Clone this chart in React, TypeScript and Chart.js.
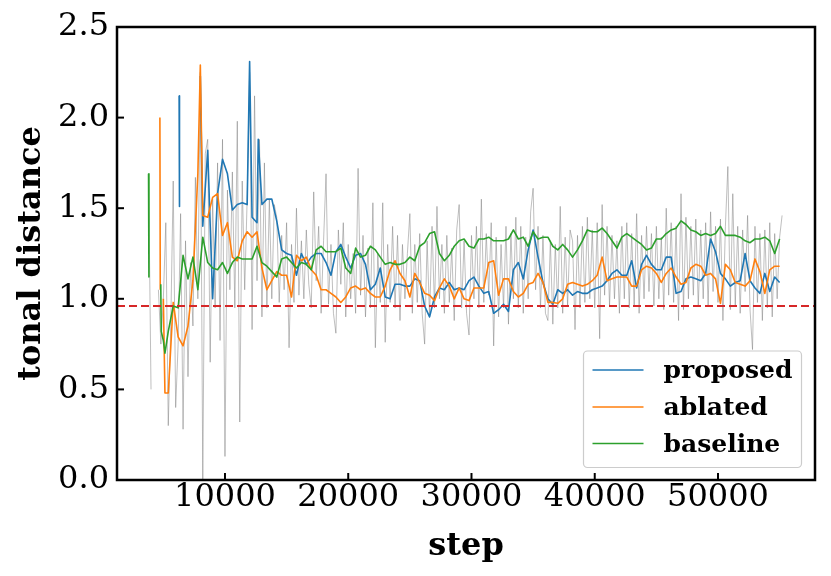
import React, { useEffect, useRef } from "react";
import { Chart, registerables } from "chart.js";

Chart.register(...registerables);

// ---------- data ----------
const steps = [
  3800, 4200, 4600, 5000, 5400, 5800, 6200, 6600, 7000, 7400,
  7800, 8200, 8600, 9000, 9400, 9800, 10200, 10600, 11000, 11400,
  11800, 12200, 12600, 13000, 13400, 13800, 14200, 14600, 15000, 15400,
  15800, 16200, 16600, 17000, 17400, 17800, 18200, 18600, 19000, 19400,
  19800, 20200, 20600, 21000, 21400, 21800, 22200, 22600, 23000, 23400,
  23800, 24200, 24600, 25000, 25400, 25800, 26200, 26600, 27000, 27400,
  27800, 28200, 28600, 29000, 29400, 29800, 30200, 30600, 31000, 31400,
  31800, 32200, 32600, 33000, 33400, 33800, 34200, 34600, 35000, 35400,
  35800, 36200, 36600, 37000, 37400, 37800, 38200, 38600, 39000, 39400,
  39800, 40200, 40600, 41000, 41400, 41800, 42200, 42600, 43000, 43400,
  43800, 44200, 44600, 45000, 45400, 45800, 46200, 46600, 47000, 47400,
  47800, 48200, 48600, 49000, 49400, 49800, 50200, 50600, 51000, 51400,
  51800, 52200, 52600, 53000, 53400, 53800, 54200, 54600, 55000,
];

const proposed = [
  null, null, null, null, null, null, null, null, null, null,
  null, 1.40, 1.82, 1.00, 1.58, 1.77, 1.69, 1.49, 1.52, 1.53,
  1.52, 1.45, 1.42, 1.52, 1.55, 1.55, 1.43, 1.27, 1.25, 1.24,
  1.13, 1.25, 1.19, 1.23, 1.25, 1.25, 1.20, 1.13, 1.26, 1.30,
  1.23, 1.17, 1.24, 1.25, 1.19, 1.05, 1.08, 1.17, 1.01, 1.00,
  1.08, 1.08, 1.07, 1.07, 1.11, 1.10, 0.96, 0.90, 1.01, 1.06,
  1.05, 1.09, 1.05, 1.06, 1.05, 1.10, 1.12, 1.07, 1.03, 1.04,
  0.92, 0.94, 0.97, 0.93, 1.16, 1.20, 1.11, 1.27, 1.38, 1.23,
  1.09, 1.00, 0.97, 1.05, 1.03, 1.05, 1.02, 1.04, 1.03, 1.03,
  1.05, 1.06, 1.07, 1.10, 1.14, 1.16, 1.13, 1.13, 1.21, 1.06,
  1.19, 1.24, 1.19, 1.16, 1.16, 1.23, 1.23, 1.03, 1.04, 1.11,
  1.12, 1.11, 1.10, 1.14, 1.33, 1.26, 1.14, 1.11, 1.07, 1.09,
  1.10, 1.25, 1.10, 1.06, 1.03, 1.14, 1.04, 1.12, 1.09,
];

const ablated = [
  null, null, null, 1.00, 0.48, 0.98, 0.79, 0.74, 0.85, 1.10,
  1.69, 1.46, 1.45, 1.56, 1.58, 1.35, 1.42, 1.23, 1.21, 1.32,
  1.37, 1.34, 1.37, 1.17, 1.05, 1.10, 1.15, 1.13, 1.13, 1.01,
  1.24, 1.21, 1.23, 1.16, 1.13, 1.05, 1.05, 1.03, 1.01, 0.98,
  1.01, 1.06, 1.07, 1.05, 1.06, 1.03, 1.01, 1.01, 1.07, 1.16,
  1.21, 1.14, 1.10, 1.01, 1.14, 1.09, 1.03, 1.02, 0.99, 1.06,
  1.11, 1.07, 1.00, 1.06, 1.00, 0.99, 1.06, 1.06, 1.06, 1.20,
  1.21, 1.02, 1.11, 1.11, 1.04, 1.01, 1.03, 1.08, 1.09, 1.14,
  1.09, 0.98, 0.98, 0.975, 1.00, 1.08, 1.09, 1.08, 1.07, 1.08,
  1.10, 1.13, 1.23, 1.10, 1.11, 1.12, 1.12, 1.12, 1.07, 1.07,
  1.16, 1.18, 1.17, 1.14, 1.09, 1.14, 1.17, 1.12, 1.08, 1.09,
  1.17, 1.19, 1.18, 1.13, 1.14, 1.11, 0.975, 1.19, 1.16, 1.09,
  1.08, 1.07, 1.10, 1.22, 1.15, 1.03, 1.16, 1.18, 1.18,
];

const baseline = [
  1.69, null, null, 0.77, 0.82, 0.96, 0.95, 1.24, 1.11, 1.23,
  1.05, 1.34, 1.20, 1.17, 1.16, 1.20, 1.14, 1.20, 1.23, 1.22,
  1.22, 1.22, 1.29, 1.20, 1.18, 1.15, 1.12, 1.22, 1.23, 1.20,
  1.17, 1.20, 1.19, 1.16, 1.27, 1.29, 1.26, 1.26, 1.26, 1.28,
  1.17, 1.14, 1.28, 1.23, 1.24, 1.29, 1.27, 1.23, 1.19, 1.20,
  1.19, 1.19, 1.20, 1.23, 1.21, 1.29, 1.31, 1.36, 1.37, 1.25,
  1.21, 1.24, 1.29, 1.32, 1.33, 1.29, 1.28, 1.33, 1.33, 1.34,
  1.32, 1.32, 1.32, 1.33, 1.38, 1.33, 1.34, 1.29, 1.37, 1.33,
  1.34, 1.34, 1.29, 1.27, 1.30, 1.27, 1.23, 1.27, 1.32, 1.38,
  1.37, 1.37, 1.39, 1.36, 1.32, 1.28, 1.34, 1.36, 1.34, 1.32,
  1.30, 1.27, 1.28, 1.33, 1.33, 1.36, 1.38, 1.39, 1.43, 1.41,
  1.38, 1.37, 1.35, 1.36, 1.35, 1.36, 1.40, 1.35, 1.35, 1.35,
  1.34, 1.32, 1.31, 1.33, 1.33, 1.34, 1.32, 1.25, 1.33,
];

// short fragments / spikes that fall between the logged steps
const proposedExtra = [[6280, 2.12], [6310, 1.51], [8000, 2.23], [12000, 2.31], [12700, 1.88]];
const ablatedExtra = [[4720, 2.0], [4750, 1.05], [4800, null], [5130, 0.48], [8000, 2.29]];
const baselineExtra = [[3830, 1.12], [4790, 1.08], [4830, 0.82], [5130, 0.7]];

// raw (unsmoothed) values, drawn in light grey
const rawSteps = [
  3800, 4000, 4200, 4400, 4600, 4800, 5000, 5200, 5400, 5600,
  5800, 6000, 6200, 6400, 6600, 6800, 7000, 7200, 7400, 7600,
  7800, 8000, 8200, 8400, 8600, 8800, 9000, 9200, 9400, 9600,
  9800, 10000, 10200, 10400, 10600, 10800, 11000, 11200, 11400, 11600,
  11800, 12000, 12200, 12400, 12600, 12800, 13000, 13200, 13400, 13600,
  13800, 14000, 14200, 14400, 14600, 14800, 15000, 15200, 15400, 15600,
  15800, 16000, 16200, 16400, 16600, 16800, 17000, 17200, 17400, 17600,
  17800, 18000, 18200, 18400, 18600, 18800, 19000, 19200, 19400, 19600,
  19800, 20000, 20200, 20400, 20600, 20800, 21000, 21200, 21400, 21600,
  21800, 22000, 22200, 22400, 22600, 22800, 23000, 23200, 23400, 23600,
  23800, 24000, 24200, 24400, 24600, 24800, 25000, 25200, 25400, 25600,
  25800, 26000, 26200, 26400, 26600, 26800, 27000, 27200, 27400, 27600,
  27800, 28000, 28200, 28400, 28600, 28800, 29000, 29200, 29400, 29600,
  29800, 30000, 30200, 30400, 30600, 30800, 31000, 31200, 31400, 31600,
  31800, 32000, 32200, 32400, 32600, 32800, 33000, 33200, 33400, 33600,
  33800, 34000, 34200, 34400, 34600, 34800, 35000, 35200, 35400, 35600,
  35800, 36000, 36200, 36400, 36600, 36800, 37000, 37200, 37400, 37600,
  37800, 38000, 38200, 38400, 38600, 38800, 39000, 39200, 39400, 39600,
  39800, 40000, 40200, 40400, 40600, 40800, 41000, 41200, 41400, 41600,
  41800, 42000, 42200, 42400, 42600, 42800, 43000, 43200, 43400, 43600,
  43800, 44000, 44200, 44400, 44600, 44800, 45000, 45200, 45400, 45600,
  45800, 46000, 46200, 46400, 46600, 46800, 47000, 47200, 47400, 47600,
  47800, 48000, 48200, 48400, 48600, 48800, 49000, 49200, 49400, 49600,
  49800, 50000, 50200, 50400, 50600, 50800, 51000, 51200, 51400, 51600,
  51800, 52000, 52200, 52400, 52600, 52800, 53000, 53200, 53400, 53600,
  53800, 54000, 54200, 54400, 54600, 54800, 55000, 55200,
];

const raw = [
  1.69, 0.50, null, null, 1.05, 0.75, 1.00, 1.42, 0.30, 0.85,
  1.65, 0.40, 0.75, 1.47, 0.28, 1.32, 0.57, 1.20, 0.85, 1.67,
  1.00, 2.25, 0.00, 1.80, 1.88, 0.65, 1.55, 0.95, 1.75, 0.77,
  1.88, 0.13, 1.60, 1.05, 1.70, 0.95, 1.98, 0.32, 1.65, 1.05,
  1.55, 2.25, 0.83, 2.12, 1.10, 1.88, 0.90, 1.75, 0.95, 1.55,
  1.00, 1.52, 1.45, 0.98, 1.35, 1.05, 1.42, 0.73, 1.30, 0.98,
  1.50, 1.02, 1.32, 1.00, 1.38, 1.08, 0.95, 1.59, 1.10, 1.40,
  0.92, 1.32, 1.69, 0.97, 1.30, 0.92, 0.81, 1.38, 1.08, 1.42,
  0.90, 1.30, 1.00, 1.25, 0.92, 1.72, 1.02, 1.35, 0.90, 1.28,
  0.95, 1.53, 0.73, 1.25, 0.98, 1.53, 0.76, 1.30, 0.98, 1.40,
  0.95, 1.35, 0.88, 1.30, 1.00, 1.25, 1.47, 0.92, 1.30, 0.98,
  1.36, 0.92, 0.75, 1.32, 0.90, 1.40, 0.95, 1.51, 1.00, 1.30,
  0.92, 1.35, 0.98, 1.28, 0.88, 1.38, 1.52, 0.95, 1.32, 0.92,
  0.80, 1.35, 1.00, 1.40, 0.95, 1.55, 0.98, 1.36, 1.02, 1.42,
  0.74, 1.34, 0.90, 1.30, 0.95, 1.40, 0.86, 1.36, 1.00, 1.45,
  0.95, 1.40, 0.92, 1.34, 1.00, 1.48, 1.61, 1.05, 1.40, 0.95,
  1.35, 0.92, 0.88, 1.32, 0.86, 1.30, 0.95, 1.51, 0.92, 1.34,
  0.96, 1.38, 1.32, 0.83, 1.35, 0.95, 1.40, 0.98, 1.45, 1.00,
  1.38, 0.95, 1.42, 0.78, 1.52, 1.02, 1.40, 0.96, 1.35, 1.00,
  1.32, 0.92, 1.40, 1.00, 1.42, 0.95, 1.36, 0.96, 1.47, 0.92,
  1.35, 1.00, 1.40, 1.04, 1.36, 0.96, 1.40, 1.00, 1.34, 0.94,
  1.50, 1.02, 1.42, 0.98, 1.40, 0.88, 1.58, 0.94, 1.45, 1.00,
  1.40, 1.02, 1.44, 0.96, 1.38, 1.00, 1.42, 0.96, 1.48, 1.04,
  1.40, 0.98, 1.44, 0.88, 1.40, 1.73, 0.94, 1.58, 0.96, 1.40,
  0.92, 1.38, 1.04, 1.46, 0.94, 0.72, 1.40, 0.98, 1.36, 0.88,
  1.38, 0.95, 1.42, 0.90, 1.36, 1.00, 1.34, 1.46,
];

const xTicks = [10000, 20000, 30000, 40000, 50000];
const yTicks = [0, 0.5, 1.0, 1.5, 2.0, 2.5];
const refLine = 0.96;
const xMin = 1240;
const xMax = 57870;
const yMin = 0;
const yMax = 2.5;
const legendLabels = ["proposed", "ablated", "baseline"];
const seriesColors = ["#1f77b4", "#ff7f0e", "#2ca02c"];

// ---------- helpers ----------
const FONT = "'DejaVu Serif', serif";

function buildPoints(vals: (number | null)[], extra: any[]) {
  const pts: { x: number; y: number | null }[] = steps.map((s, i) => ({ x: s, y: vals[i] }));
  extra.forEach(([x, y]) => pts.push({ x, y }));
  pts.sort((a, b) => a.x - b.x);
  return pts;
}

const decorPlugin = {
  id: "decor",
  afterDatasetsDraw(chart: any) {
    const { ctx, chartArea: a, scales } = chart;
    const yy = Math.round(scales.y.getPixelForValue(refLine));
    ctx.save();
    ctx.strokeStyle = "#d62728";
    ctx.lineWidth = 2;
    ctx.setLineDash([8, 4]);
    ctx.beginPath();
    ctx.moveTo(a.left, yy);
    ctx.lineTo(a.right, yy);
    ctx.stroke();
    ctx.restore();
  },
  afterDraw(chart: any) {
    const { ctx, chartArea: a, scales } = chart;
    ctx.save();
    ctx.setLineDash([]);
    ctx.strokeStyle = "#000";
    ctx.lineWidth = 2;
    xTicks.forEach((v) => {
      const px = scales.x.getPixelForValue(v);
      ctx.beginPath();
      ctx.moveTo(px, a.bottom);
      ctx.lineTo(px, a.bottom - 7);
      ctx.stroke();
    });
    yTicks.forEach((v) => {
      const py = scales.y.getPixelForValue(v);
      ctx.beginPath();
      ctx.moveTo(a.left, py);
      ctx.lineTo(a.left + 7, py);
      ctx.stroke();
    });
    ctx.lineWidth = 2.5;
    ctx.strokeRect(a.left, a.top, a.right - a.left, a.bottom - a.top);

    // legend
    const bx = a.right - 231.5;
    const by = a.bottom - 129;
    const bw = 218;
    const bh = 116.5;
    ctx.beginPath();
    if (ctx.roundRect) ctx.roundRect(bx, by, bw, bh, 4);
    else ctx.rect(bx, by, bw, bh);
    ctx.fillStyle = "rgba(255,255,255,0.8)";
    ctx.fill();
    ctx.strokeStyle = "#cccccc";
    ctx.lineWidth = 1.2;
    ctx.stroke();
    const rows = [19, 56, 92.5];
    ctx.font = `bold 25px ${FONT}`;
    ctx.textAlign = "left";
    ctx.textBaseline = "alphabetic";
    legendLabels.forEach((lab, i) => {
      const ry = by + rows[i];
      ctx.strokeStyle = seriesColors[i];
      ctx.lineWidth = 1.6;
      ctx.beginPath();
      ctx.moveTo(bx + 9, ry);
      ctx.lineTo(bx + 60, ry);
      ctx.stroke();
      ctx.fillStyle = "#000";
      ctx.fillText(lab, bx + 80, ry + 8);
    });
    ctx.restore();
  },
};

export default function App() {
  const ref = useRef<HTMLCanvasElement | null>(null);

  useEffect(() => {
    if (!ref.current) return;
    const line = (label: string, data: any[], color: string, order: number) => ({
      label,
      data,
      borderColor: color,
      backgroundColor: color,
      borderWidth: 1.6,
      pointRadius: 0,
      tension: 0,
      spanGaps: false,
      borderJoinStyle: "round",
      order,
    });
    const chart = new Chart(ref.current, {
      type: "line",
      data: {
        datasets: [
          {
            label: "raw",
            data: rawSteps.map((s, i) => ({ x: s, y: raw[i] })),
            borderColor: "rgba(128,128,128,0.5)",
            borderWidth: 1,
            pointRadius: 0,
            tension: 0,
            spanGaps: false,
            order: 4,
          },
          line(legendLabels[0], buildPoints(proposed, proposedExtra), seriesColors[0], 3),
          line(legendLabels[1], buildPoints(ablated, ablatedExtra), seriesColors[1], 2),
          line(legendLabels[2], buildPoints(baseline, baselineExtra), seriesColors[2], 1),
        ] as any,
      },
      options: {
        responsive: false,
        animation: false,
        devicePixelRatio: 1,
        layout: { padding: { left: 0, top: 27, right: 16, bottom: 0 } },
        plugins: { legend: { display: false }, tooltip: { enabled: false } },
        scales: {
          x: {
            type: "linear",
            min: xMin,
            max: xMax,
            grid: { display: false, drawTicks: false },
            border: { display: false },
            afterFit: (s: any) => {
              s.height = 96;
            },
            afterBuildTicks: (s: any) => {
              s.ticks = xTicks.map((v) => ({ value: v }));
            },
            ticks: {
              autoSkip: false,
              maxRotation: 0,
              padding: 2,
              color: "#000",
              font: { family: FONT, size: 32, lineHeight: 1 },
              callback: (v: any) => String(v),
            },
            title: {
              display: true,
              text: "step",
              color: "#000",
              font: { family: FONT, size: 32, weight: "bold", lineHeight: 1.2 },
              padding: { top: 0, bottom: 10 },
            },
          },
          y: {
            type: "linear",
            min: yMin,
            max: yMax,
            grid: { display: false, drawTicks: false },
            border: { display: false },
            afterFit: (s: any) => {
              s.width = 117;
            },
            afterBuildTicks: (s: any) => {
              s.ticks = yTicks.map((v) => ({ value: v }));
            },
            ticks: {
              padding: 8,
              color: "#000",
              font: { family: FONT, size: 32, lineHeight: 1 },
              callback: (v: any) => Number(v).toFixed(1),
            },
            title: {
              display: true,
              text: "tonal distance",
              color: "#000",
              font: { family: FONT, size: 32, weight: "bold", lineHeight: 1.2 },
              padding: { top: 12, bottom: 0 },
            },
          },
        },
      } as any,
      plugins: [decorPlugin],
    });
    return () => chart.destroy();
  }, []);

  return (
    <div style={{ position: "fixed", left: 0, top: 0, width: 831, height: 576, background: "#fff" }}>
      <canvas ref={ref} width={831} height={576} style={{ display: "block", width: 831, height: 576 }} />
    </div>
  );
}
